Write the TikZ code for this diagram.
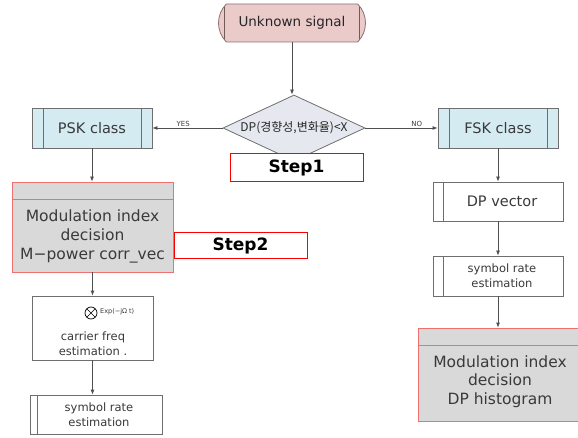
\documentclass[tikz,border=0pt]{standalone}
\usepackage{fontspec}
\setmainfont{DejaVu Sans}
\newfontfamily\krfont{Noto Sans CJK KR}
\usetikzlibrary{shapes.geometric,shapes.misc,arrows.meta,calc}
\definecolor{txt}{HTML}{3A3A3A}
\definecolor{linegray}{HTML}{6E6E6E}
\definecolor{conn}{HTML}{505050}
\definecolor{pinkfill}{HTML}{EBCACA}
\definecolor{pinkline}{HTML}{8C7070}
\definecolor{bluefill}{HTML}{D4EBF2}
\definecolor{grayfill}{HTML}{D9D9D9}
\definecolor{redsoft}{HTML}{F07070}
\definecolor{decfill}{HTML}{E5E9EF}
\tikzset{
  box/.style={draw=linegray, rectangle, inner sep=0pt, align=center, text=txt, line width=0.8pt},
  startbox/.style={rounded rectangle, rounded rectangle arc length=90, draw=pinkline, fill=pinkfill,
    line width=0.8pt, inner sep=0pt, text=black!85, minimum width=147, minimum height=38,
    font=\fontsize{13.5}{16}\selectfont,
    path picture={\draw[pinkline!80!black, line width=0.8pt]
      ([xshift=9pt]path picture bounding box.north west) -- ([xshift=9pt]path picture bounding box.south west)
      ([xshift=-9pt]path picture bounding box.north east) -- ([xshift=-9pt]path picture bounding box.south east);}},
  classbox/.style={box, fill=bluefill, minimum width=120, minimum height=40,
    font=\fontsize{14.5}{17}\selectfont,
    path picture={\draw[linegray, line width=0.8pt]
      ([xshift=11pt]path picture bounding box.north west) -- ([xshift=11pt]path picture bounding box.south west)
      ([xshift=-11pt]path picture bounding box.north east) -- ([xshift=-11pt]path picture bounding box.south east);}},
  barbox/.style={box, fill=white,
    path picture={\draw[linegray, line width=0.8pt]
      ([xshift=#1]path picture bounding box.north west) -- ([xshift=#1]path picture bounding box.south west);}},
  plainbox/.style={box, fill=white},
  modbox/.style={rectangle, draw=redsoft, fill=grayfill, line width=0.8pt, inner sep=0pt,
    path picture={\draw[redsoft, line width=0.8pt]
      ([yshift=-17pt]path picture bounding box.north west) -- ([yshift=-17pt]path picture bounding box.north east);}},
  modtext/.style={align=center, text=txt, inner sep=0pt, font=\fontsize{15.5}{19}\selectfont},
  smalltext/.style={align=center, text=txt, inner sep=0pt, font=\fontsize{11.5}{15}\selectfont},
  stepbox/.style={rectangle, draw=red, line width=1pt, fill=white, inner sep=0pt,
    font=\fontsize{17}{20}\bfseries\selectfont, text=black},
  decbox/.style={diamond, aspect=2.15, draw=linegray, fill=decfill, line width=0.8pt, inner sep=0pt,
    minimum width=142, minimum height=66, text=black!85, font=\krfont\fontsize{12}{14}\selectfont},
  arr/.style={draw=conn, line width=0.8pt, -{Latex[length=5pt,width=4pt]}},
  lbl/.style={text=txt, inner sep=1pt, font=\fontsize{7}{8}\selectfont},
}
\begin{document}
\begin{tikzpicture}[x=1pt,y=-1pt]
\useasboundingbox (0,0) rectangle (578,438);
\clip (0,0) rectangle (578,438);

\node[startbox] (start) at (292,23) {Unknown signal};
\node[decbox] (dec) at (294,128) {DP(경향성,변화율)<X};
\node[stepbox, minimum width=133, minimum height=28] (step1) at (296.5,168) {Step1};

\node[classbox] (psk) at (92,128) {PSK class};
\node[classbox] (fsk) at (498,128) {FSK class};

\node[modbox, minimum width=161, minimum height=90] (mod1) at (92.5,227) {};
\node[modtext] (mod1text) at (92.5,236) {Modulation index\\decision\\M−power corr\_vec};
\node[stepbox, minimum width=133, minimum height=26] (step2) at (240.5,246) {Step2};

\node[plainbox, minimum width=121, minimum height=64] (carrier) at (92.5,328) {};
\node[circle, draw=black, line width=0.7pt, minimum size=12, inner sep=0pt,
  path picture={\draw[black, line width=0.6pt]
    (path picture bounding box.north west) -- (path picture bounding box.south east)
    (path picture bounding box.north east) -- (path picture bounding box.south west);}] (mult) at (91,313) {};
\node[anchor=west, text=txt, inner sep=0pt, font=\fontsize{6.5}{7.5}\selectfont] (explbl) at (100,312) {Exp(−jΩ t)};
\node[smalltext] (cartext) at (93,344) {carrier freq\\estimation .};

\node[barbox=7pt, minimum width=132, minimum height=39] (sym1) at (96,414.5) {};
\node[smalltext] (sym1text) at (99,414.5) {symbol rate\\estimation};

\node[barbox=10pt, minimum width=130, minimum height=39, font=\fontsize{14.5}{17}\selectfont] (dpv) at (498,201.5) {\hspace*{8pt}DP vector};
\node[barbox=10pt, minimum width=130, minimum height=40] (sym2) at (498,276) {};
\node[smalltext] (sym2text) at (502,276) {symbol rate\\estimation};

\node[modbox, minimum width=164, minimum height=93] (mod2) at (500,374.5) {};
\node[modtext, font=\fontsize{15.5}{18.5}\selectfont] (mod2text) at (500,381.5) {Modulation index\\decision\\DP histogram};

% connectors
\draw[arr] (start.south) -- (start.south |- dec.north);
\draw[arr] (dec.west) -- node[lbl, above, pos=0.56] (yes) {YES} (psk.east);
\draw[arr] (dec.east) -- node[lbl, above, pos=0.71] (no) {NO} (fsk.west);
\draw[arr] (psk.south) -- (psk.south |- mod1.north);
\draw[arr] (mod1.south) -- (mod1.south |- carrier.north);
\draw[arr] (carrier.south) -- (carrier.south |- sym1.north);
\draw[arr] (fsk.south) -- (dpv.north);
\draw[arr] (dpv.south) -- (sym2.north);
\draw[arr] (sym2.south) -- (sym2.south |- mod2.north);
\end{tikzpicture}
\end{document}
